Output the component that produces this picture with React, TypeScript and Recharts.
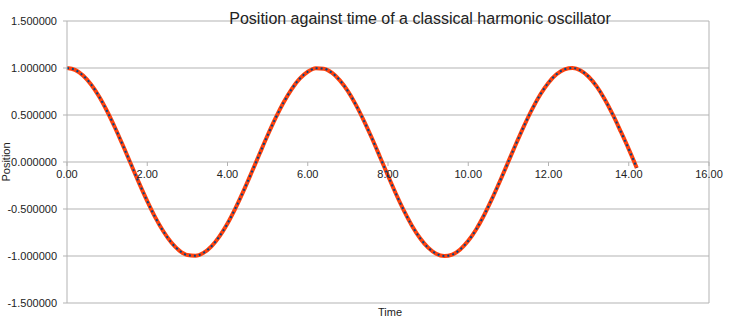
import { CartesianGrid, Customized, Line, LineChart, ReferenceLine, XAxis, YAxis } from "recharts";

const time = [
  0, 0.2, 0.4, 0.6, 0.8, 1.0, 1.2, 1.4, 1.6, 1.8, 2.0, 2.2, 2.4, 2.6, 2.8, 3.0, 3.2, 3.4, 3.6, 3.8,
  4.0, 4.2, 4.4, 4.6, 4.8, 5.0, 5.2, 5.4, 5.6, 5.8, 6.0, 6.2, 6.4, 6.6, 6.8, 7.0, 7.2, 7.4, 7.6, 7.8,
  8.0, 8.2, 8.4, 8.6, 8.8, 9.0, 9.2, 9.4, 9.6, 9.8, 10.0, 10.2, 10.4, 10.6, 10.8, 11.0, 11.2, 11.4,
  11.6, 11.8, 12.0, 12.2, 12.4, 12.6, 12.8, 13.0, 13.2, 13.4, 13.6, 13.8, 14.0, 14.2,
];
const position = [
  1.0, 0.98, 0.921, 0.825, 0.697, 0.54, 0.362, 0.17, -0.029, -0.227, -0.416, -0.589, -0.737, -0.857,
  -0.942, -0.99, -0.998, -0.967, -0.897, -0.791, -0.654, -0.49, -0.307, -0.112, 0.087, 0.284, 0.469,
  0.635, 0.776, 0.886, 0.96, 0.997, 0.993, 0.95, 0.869, 0.754, 0.608, 0.438, 0.252, 0.054, -0.146,
  -0.34, -0.52, -0.68, -0.811, -0.911, -0.975, -1.0, -0.985, -0.93, -0.839, -0.715, -0.561, -0.385,
  -0.194, 0.004, 0.202, 0.393, 0.568, 0.721, 0.844, 0.933, 0.986, 1.0, 0.974, 0.907, 0.804, 0.668,
  0.506, 0.325, 0.137, -0.063,
];
const xTicks = [0, 2, 4, 6, 8, 10, 12, 14, 16];
const yTicks = [-1.5, -1, -0.5, 0, 0.5, 1, 1.5];

const data = time.map((t, i) => ({ t, y: position[i] }));

const W = 730;
const H = 323;
const margin = { top: 21, right: 21, bottom: 0, left: 0 };
const xAxisH = 20;
const yAxisW = 67;
const plotH = H - margin.top - margin.bottom - xAxisH;
const yMin = -1.5;
const yMax = 1.5;
const zeroY = margin.top + (plotH * yMax) / (yMax - yMin);

const font = "'Liberation Sans', Arial, sans-serif";
const grid = "#b3b3b3";
const ink = "#222";

function XTick({ x, payload }: any) {
  return (
    <g>
      <line x1={x} x2={x} y1={zeroY} y2={zeroY + 4} stroke={grid} />
      <text x={x} y={zeroY + 16} textAnchor="middle" fontSize={11} fill={ink} fontFamily={font}>
        {Number(payload.value).toFixed(2)}
      </text>
    </g>
  );
}

export default function App() {
  return (
    <div style={{ position: "absolute", left: 0, top: 0, width: W, height: H, background: "#fff" }}>
      <LineChart width={W} height={H} data={data} margin={margin}>
        <CartesianGrid stroke={grid} vertical={false} horizontalValues={yTicks} />
        <ReferenceLine x={16} stroke={grid} />
        <XAxis
          dataKey="t"
          type="number"
          domain={[0, 16]}
          ticks={xTicks}
          height={xAxisH}
          axisLine={false}
          tickLine={false}
          tick={(p: any) => <XTick {...p} />}
          interval={0}
        />
        <YAxis
          type="number"
          domain={[yMin, yMax]}
          ticks={yTicks}
          width={yAxisW}
          axisLine={{ stroke: grid }}
          tickLine={{ stroke: grid }}
          tickSize={4}
          tickMargin={6}
          tickFormatter={(v: number) => v.toFixed(6)}
          tick={{ fontSize: 11, fill: ink, fontFamily: font }}
          interval={0}
        />
        <Line type="monotone" dataKey="y" stroke="#ff420e" strokeWidth={4} dot={false} isAnimationActive={false} />
        <Line
          type="monotone"
          dataKey="y"
          stroke="#004586"
          strokeWidth={2}
          strokeDasharray="2 3"
          dot={false}
          isAnimationActive={false}
        />
        <Customized
          component={() => (
            <g fontFamily={font} fill={ink}>
              <text x={420} y={24} textAnchor="middle" fontSize={16}>
                Position against time of a classical harmonic oscillator
              </text>
              <text x={390} y={316} textAnchor="middle" fontSize={11}>
                Time
              </text>
              <text x={10} y={162} textAnchor="middle" fontSize={11} transform="rotate(-90 10 162)">
                Position
              </text>
            </g>
          )}
        />
      </LineChart>
    </div>
  );
}
